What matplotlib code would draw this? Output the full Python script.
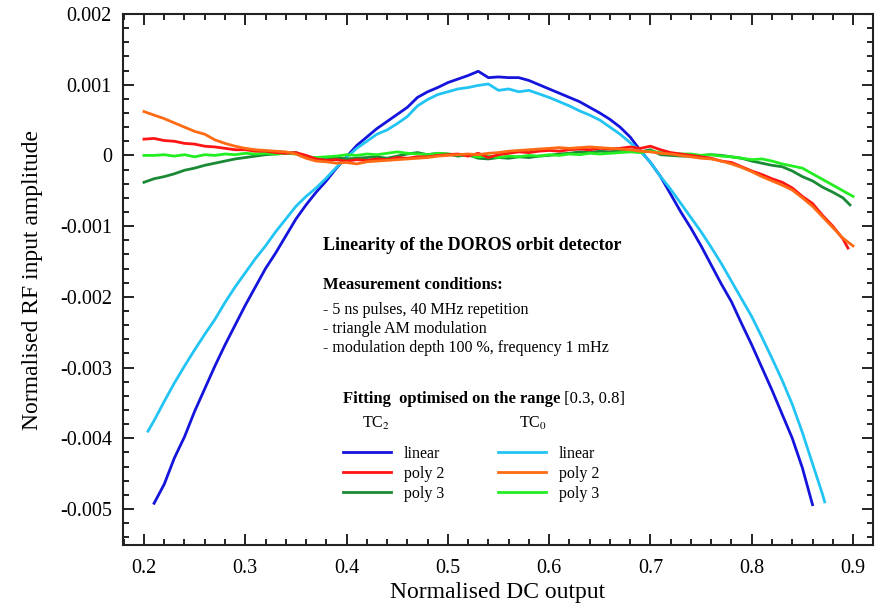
import numpy as np
import matplotlib
matplotlib.use("Agg")
import matplotlib.pyplot as plt
from matplotlib.ticker import MultipleLocator, FuncFormatter

plt.rcParams["font.family"] = ["Liberation Serif", "DejaVu Serif"]
plt.rcParams["mathtext.fontset"] = "stix"
plt.rcParams["axes.unicode_minus"] = False

# TC2 linear fit (blue)
x_tc2_lin = np.round(np.arange(0.21, 0.865, 0.01), 3)
y_tc2_lin = [
    -0.00492, -0.00465, -0.00428, -0.00398, -0.00362, -0.00330, -0.00298, -0.00268,
    -0.00240, -0.00212, -0.00186, -0.00160, -0.00138, -0.00114, -0.00090, -0.00070,
    -0.00052, -0.00036, -0.00018, -0.00002, 0.00014, 0.00026, 0.00038, 0.00048,
    0.00058, 0.00068, 0.00082, 0.00090, 0.00096, 0.00103, 0.00108, 0.00113,
    0.00119, 0.00110, 0.00111, 0.00110, 0.00110, 0.00106, 0.00100, 0.00094,
    0.00088, 0.00082, 0.00076, 0.00068, 0.00060, 0.00051, 0.00040, 0.00026,
    0.00007, -0.00010, -0.00030, -0.00055, -0.00080, -0.00103, -0.00128, -0.00155,
    -0.00182, -0.00207, -0.00238, -0.00268, -0.00300, -0.00332, -0.00366, -0.00400,
    -0.00442, -0.00494,
]

# TC0 linear fit (cyan)
x_tc0_lin = np.concatenate([[0.204], np.round(np.arange(0.21, 0.875, 0.01), 3), [0.872]])
y_tc0_lin = [
    -0.00390, -0.00375, -0.00348, -0.00322, -0.00298, -0.00275, -0.00253, -0.00232,
    -0.00208, -0.00186, -0.00166, -0.00146, -0.00128, -0.00108, -0.00090, -0.00072,
    -0.00058, -0.00046, -0.00032, -0.00017, -0.00003, 0.00010, 0.00020, 0.00030,
    0.00036, 0.00045, 0.00055, 0.00070, 0.00079, 0.00086, 0.00090, 0.00094,
    0.00096, 0.00099, 0.00101, 0.00092, 0.00094, 0.00090, 0.00092, 0.00087,
    0.00082, 0.00076, 0.00070, 0.00063, 0.00057, 0.00050, 0.00040, 0.00030,
    0.00018, 0.00006, -0.00010, -0.00030, -0.00048, -0.00068, -0.00088, -0.00108,
    -0.00130, -0.00153, -0.00178, -0.00203, -0.00228, -0.00257, -0.00287, -0.00318,
    -0.00352, -0.00392, -0.00436, -0.00480, -0.00490,
]

# TC2 poly 2 (red)
x_tc2_p2 = np.concatenate([np.round(np.arange(0.20, 0.895, 0.01), 3), [0.895]])
y_tc2_p2 = [
    0.00023, 0.00024, 0.00021, 0.00020, 0.00017, 0.00016, 0.00013, 0.00012,
    0.00010, 0.00008, 0.00008, 0.00006, 0.00006, 0.00004, 0.00003, 0.00004,
    0.00000, -0.00005, -0.00007, -0.00006, -0.00008, -0.00006, -0.00007, -0.00005,
    -0.00006, -0.00003, -0.00004, -0.00002, -0.00002, 0.00000, 0.00001, 0.00002,
    -0.00001, 0.00003, -0.00003, 0.00001, 0.00003, 0.00005, 0.00004, 0.00006,
    0.00007, 0.00006, 0.00008, 0.00009, 0.00008, 0.00010, 0.00009, 0.00010,
    0.00012, 0.00010, 0.00013, 0.00008, 0.00004, 0.00002, 0.00000, -0.00002,
    -0.00004, -0.00008, -0.00010, -0.00016, -0.00022, -0.00027, -0.00033, -0.00038,
    -0.00046, -0.00058, -0.00068, -0.00085, -0.00100, -0.00118, -0.00131,
]

# TC0 poly 2 (orange)
x_tc0_p2 = np.round(np.arange(0.20, 0.905, 0.01), 3)
y_tc0_p2 = [
    0.00062, 0.00057, 0.00052, 0.00046, 0.00040, 0.00034, 0.00030, 0.00022,
    0.00017, 0.00013, 0.00010, 0.00008, 0.00007, 0.00006, 0.00005, 0.00002,
    -0.00004, -0.00008, -0.00009, -0.00011, -0.00010, -0.00012, -0.00009, -0.00008,
    -0.00007, -0.00006, -0.00005, -0.00004, -0.00003, -0.00001, 0.00000, 0.00001,
    0.00002, 0.00001, 0.00003, 0.00004, 0.00006, 0.00007, 0.00008, 0.00009,
    0.00010, 0.00011, 0.00010, 0.00011, 0.00012, 0.00011, 0.00010, 0.00009,
    0.00008, 0.00006, 0.00005, 0.00003, 0.00002, 0.00000, -0.00002, -0.00004,
    -0.00005, -0.00008, -0.00012, -0.00017, -0.00023, -0.00030, -0.00036, -0.00042,
    -0.00049, -0.00060, -0.00072, -0.00087, -0.00102, -0.00117, -0.00128,
]

# TC2 poly 3 (dark green)
x_tc2_p3 = np.concatenate([np.round(np.arange(0.20, 0.895, 0.01), 3), [0.897]])
y_tc2_p3 = [
    -0.00038, -0.00033, -0.00030, -0.00026, -0.00021, -0.00018, -0.00014, -0.00011,
    -0.00008, -0.00005, -0.00003, -0.00001, 0.00001, 0.00002, 0.00003, 0.00004,
    -0.00003, -0.00004, -0.00006, -0.00003, -0.00005, -0.00004, -0.00003, -0.00002,
    -0.00004, -0.00001, 0.00002, 0.00004, 0.00001, 0.00003, 0.00002, -0.00001,
    0.00001, -0.00004, -0.00005, -0.00003, -0.00004, -0.00002, -0.00003, -0.00001,
    0.00000, 0.00002, 0.00003, 0.00005, 0.00004, 0.00006, 0.00005, 0.00007,
    0.00006, 0.00005, 0.00008, 0.00001, 0.00000, -0.00001, -0.00001, 0.00000,
    0.00001, 0.00000, -0.00002, -0.00004, -0.00008, -0.00011, -0.00014, -0.00016,
    -0.00022, -0.00030, -0.00036, -0.00045, -0.00052, -0.00060, -0.00070,
]

# TC0 poly 3 (light green)
x_tc0_p3 = np.round(np.arange(0.20, 0.905, 0.01), 3)
y_tc0_p3 = [
    0.00000, 0.00000, 0.00001, -0.00001, 0.00001, -0.00002, 0.00001, 0.00000,
    0.00002, 0.00001, 0.00003, 0.00002, 0.00003, 0.00002, 0.00003, 0.00002,
    -0.00002, -0.00003, -0.00002, -0.00001, 0.00001, 0.00000, 0.00002, 0.00001,
    0.00003, 0.00005, 0.00003, 0.00002, 0.00001, 0.00003, 0.00002, 0.00001,
    0.00000, -0.00002, -0.00001, -0.00003, -0.00001, -0.00002, 0.00000, -0.00001,
    0.00001, 0.00000, 0.00002, 0.00001, 0.00003, 0.00002, 0.00003, 0.00004,
    0.00005, 0.00004, 0.00006, 0.00004, 0.00003, 0.00002, 0.00002, 0.00000,
    0.00001, -0.00001, -0.00002, -0.00004, -0.00006, -0.00005, -0.00008, -0.00012,
    -0.00015, -0.00018, -0.00026, -0.00034, -0.00042, -0.00050, -0.00058,
]

W, H = 879, 606
fig = plt.figure(figsize=(W / 100, H / 100), dpi=100)
ax = fig.add_axes([123 / W, 1 - 545 / H, (873 - 123) / W, (545 - 14) / H])

lw = 2.0
l_b, = ax.plot(x_tc2_lin, y_tc2_lin, color="#1414dc", lw=lw)
l_c, = ax.plot(x_tc0_lin, y_tc0_lin, color="#22c4f4", lw=lw)
l_gd, = ax.plot(x_tc2_p3, y_tc2_p3, color="#1a8a36", lw=lw)
l_gl, = ax.plot(x_tc0_p3, y_tc0_p3, color="#22ee22", lw=lw)
l_r, = ax.plot(x_tc2_p2, y_tc2_p2, color="#ff1414", lw=lw)
l_o, = ax.plot(x_tc0_p2, y_tc0_p2, color="#ff6a14", lw=lw)

ax.set_xlim(0.1793, 0.9197)
ax.set_ylim(-0.00551, 0.002)
ax.xaxis.set_major_locator(MultipleLocator(0.1))
ax.xaxis.set_minor_locator(MultipleLocator(0.02))
ax.yaxis.set_major_locator(MultipleLocator(0.001))
ax.yaxis.set_minor_locator(MultipleLocator(0.0002))
ax.xaxis.set_major_formatter(FuncFormatter(lambda v, p: f"{v:.1f}"))
ax.yaxis.set_major_formatter(FuncFormatter(lambda v, p: "0" if abs(v) < 1e-9 else f"{v:.3f}"))
ax.tick_params(which="both", direction="in", top=True, right=True, labelsize=14.5,
               width=1.4, color="#222222")
ax.tick_params(which="major", length=8)
ax.tick_params(which="minor", length=4.5)
ax.tick_params(axis="y", pad=8)
ax.tick_params(axis="x", pad=10)
for s in ax.spines.values():
    s.set_linewidth(1.5)
    s.set_color("#222222")

ax.set_xlabel("Normalised DC output", fontsize=17, labelpad=3)
ax.set_ylabel("Normalised RF input amplitude", fontsize=17, labelpad=12)


def fx(px):
    return px / W


def fy(py):
    return 1 - py / H


fig.text(fx(323), fy(246), "Linearity of the DOROS orbit detector", fontsize=13,
         fontweight="bold", va="center")
fig.text(fx(323), fy(285), "Measurement conditions:", fontsize=12, fontweight="bold", va="center")
fig.text(fx(323), fy(310), "- 5 ns pulses, 40 MHz repetition", fontsize=11.5, va="center")
fig.text(fx(323), fy(329), "- triangle AM modulation", fontsize=11.5, va="center")
fig.text(fx(323), fy(348), "- modulation depth 100 %, frequency 1 mHz", fontsize=11.5, va="center")

t_fit = fig.text(fx(343), fy(403), "Fitting  optimised on the range", fontsize=12,
                 fontweight="bold", va="baseline")
ax.annotate(" [0.3, 0.8]", xy=(1, 0), xycoords=t_fit, fontsize=12, va="bottom")
fig.text(fx(376), fy(423), "TC$_2$", fontsize=11.5, va="center", ha="center")
fig.text(fx(533), fy(423), "TC$_0$", fontsize=11.5, va="center", ha="center")

ax.legend([l_b, l_r, l_gd, l_c, l_o, l_gl],
          ["linear", "poly 2", "poly 3", "linear", "poly 2", "poly 3"],
          ncol=2, frameon=False, fontsize=11.5, handlelength=3.0, handletextpad=0.8,
          columnspacing=3.4, labelspacing=0.25, borderpad=0, borderaxespad=0,
          loc="upper left", bbox_to_anchor=(fx(343), fy(446)), bbox_transform=fig.transFigure)

fig.savefig("out.png", dpi=100)
